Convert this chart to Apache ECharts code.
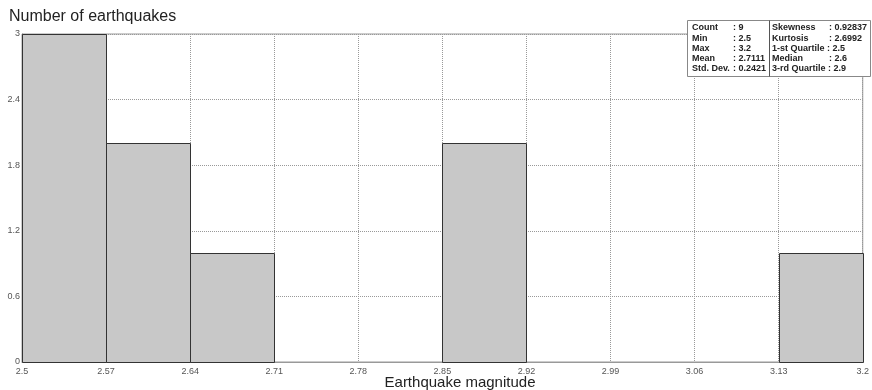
<!DOCTYPE html>
<html>
<head>
<meta charset="utf-8">
<script src="https://cdn.jsdelivr.net/npm/echarts@6/dist/echarts.min.js"></script>
<style>
html,body{margin:0;padding:0;background:#fff;}
#chart{width:872px;height:390px;}
</style>
</head>
<body>
<div id="chart"></div>
<script>
// Bin edges (tick labels of the x axis)
const binEdges = ['2.5','2.57','2.64','2.71','2.78','2.85','2.92','2.99','3.06','3.13','3.2'];
// Count of earthquakes per bin
const counts = [3, 2, 1, 0, 0, 2, 0, 0, 0, 1];
// Statistics box
const statsLeftLabels = ['Count', 'Min', 'Max', 'Mean', 'Std. Dev.'];
const statsLeftValues = ['9', '2.5', '3.2', '2.7111', '0.2421'];
const statsRightLabels = ['Skewness', 'Kurtosis', '1-st Quartile', 'Median', '3-rd Quartile'];
const statsRightValues = ['0.92837', '2.6992', '2.5', '2.6', '2.9'];

const FONT = 'Liberation Sans, Arial, sans-serif';
const chart = echarts.init(document.getElementById('chart'), null, {renderer: 'canvas'});

const seriesData = counts.map((c, i) => [i, c]);

const statsGraphics = [];
const boxX = 687.5, boxY = 20.5, boxW = 183, boxH = 56;
statsGraphics.push({
  type: 'rect', z: 100,
  shape: {x: boxX, y: boxY, width: boxW, height: boxH},
  style: {fill: '#fff', stroke: '#888', lineWidth: 1}
});
statsGraphics.push({
  type: 'line', z: 101,
  shape: {x1: 769.5, y1: boxY, x2: 769.5, y2: boxY + boxH},
  style: {stroke: '#555', lineWidth: 1}
});
const rowY = k => 28 + k * 10.25;
const txt = (x, y, s) => ({
  type: 'text', z: 102, x: x, y: y,
  style: {text: s, fill: '#222', font: 'bold 9px ' + FONT, textVerticalAlign: 'middle', textAlign: 'left'}
});
statsLeftLabels.forEach((l, k) => {
  statsGraphics.push(txt(692, rowY(k), l));
  statsGraphics.push(txt(733, rowY(k), ': ' + statsLeftValues[k]));
});
statsRightLabels.forEach((l, k) => {
  if (l.indexOf('Quartile') >= 0) {
    statsGraphics.push(txt(772, rowY(k), l + ' : ' + statsRightValues[k]));
  } else {
    statsGraphics.push(txt(772, rowY(k), l));
    statsGraphics.push(txt(829, rowY(k), ': ' + statsRightValues[k]));
  }
});

const option = {
  animation: false,
  backgroundColor: '#fff',
  title: {
    text: 'Number of earthquakes',
    left: 4, top: 4,
    textStyle: {fontSize: 16, fontWeight: 'normal', color: '#222', fontFamily: FONT}
  },
  grid: {
    left: 22, right: 6, top: 34, bottom: 28,
    show: true, borderColor: '#999', borderWidth: 1, backgroundColor: 'transparent'
  },
  xAxis: {
    type: 'value', min: 0, max: binEdges.length - 1, interval: 1,
    axisLine: {show: true, lineStyle: {color: '#999', width: 1}},
    axisTick: {show: false},
    axisLabel: {
      formatter: v => binEdges[v], fontSize: 9, color: '#555', margin: 5, fontFamily: FONT
    },
    splitLine: {show: true, lineStyle: {color: '#999', type: 'dotted', width: 1}}
  },
  yAxis: {
    type: 'value', min: 0, max: 3, interval: 0.6,
    axisLine: {show: true, lineStyle: {color: '#888', width: 1}},
    axisTick: {show: false},
    axisLabel: {fontSize: 9, color: '#555', margin: 2, fontFamily: FONT,
      formatter: v => String(Math.round(v * 10) / 10)},
    splitLine: {show: true, lineStyle: {color: '#999', type: 'dotted', width: 1}}
  },
  series: [{
    type: 'custom',
    data: seriesData,
    renderItem: function (params, api) {
      const i = api.value(0), c = api.value(1);
      if (!c) return null;
      const p0 = api.coord([i, c]);
      const p1 = api.coord([i + 1, 0]);
      const x0 = Math.round(p0[0]) + 0.5, y0 = Math.round(p0[1]) + 0.5;
      const x1 = Math.round(p1[0]) + 0.5, y1 = Math.round(p1[1]) + 0.5;
      return {
        type: 'rect',
        shape: {x: x0, y: y0, width: x1 - x0, height: y1 - y0},
        style: {fill: '#c8c8c8', stroke: '#333', lineWidth: 1}
      };
    }
  }],
  graphic: [
    {
      type: 'text', x: 460, y: 375,
      style: {text: 'Earthquake magnitude', fill: '#222', font: '15px ' + FONT, textAlign: 'center', textVerticalAlign: 'top'}
    }
  ].concat(statsGraphics)
};
chart.setOption(option);
</script>
</body>
</html>
